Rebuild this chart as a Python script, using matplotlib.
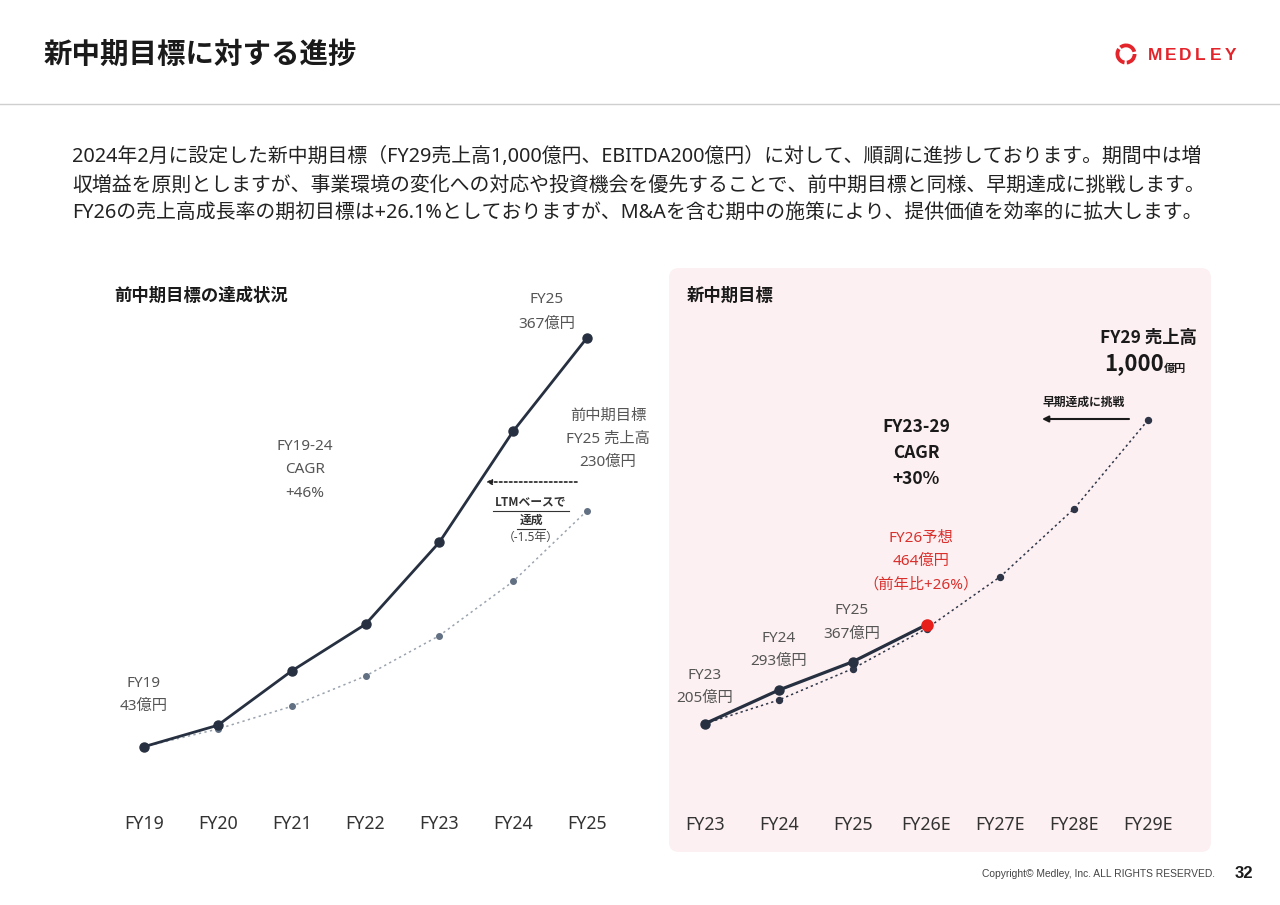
import matplotlib
matplotlib.use("Agg")
import matplotlib.pyplot as plt
from matplotlib.patches import FancyBboxPatch, Wedge
import numpy as np

plt.rcParams['font.family'] = ['Noto Sans', 'Noto Sans CJK JP', 'DejaVu Sans']
BF = ['Noto Sans CJK JP', 'DejaVu Sans']  # bold family

# ---------------- data ----------------
left_labels = ["FY19", "FY20", "FY21", "FY22", "FY23", "FY24", "FY25"]
left_actual = [43, 60, 103, 140, 205, 293, 367]
left_target = [43, 57, 75, 99, 131, 174, 230]

right_labels = ["FY23", "FY24", "FY25", "FY26E", "FY27E", "FY28E", "FY29E"]
right_actual = [205, 293, 367, 464]
right_target = [205, 267, 349, 454, 590, 768, 1000]

W, H = 1280, 905
fig = plt.figure(figsize=(W / 100, H / 100), dpi=100)
fig.patch.set_facecolor("white")

# background axes in pixel coordinates
bg = fig.add_axes([0, 0, 1, 1], zorder=0)
bg.set_xlim(0, W)
bg.set_ylim(H, 0)
bg.axis("off")

DARK = "#263040"
GRAY = "#555555"
RED = "#d9302c"

# title, divider
bg.text(44, 55, "新中期目標に対する進捗", fontsize=20.5, fontweight="bold",
        family=BF, color="#1a1a1a", va="center", ha="left")
bg.plot([0, W], [104, 104], color="#cfcfcf", lw=1)

# logo
cx, cy, r = 1126, 54, 10.5
for a1, a2 in [(100, 215), (230, 345), (360, 445)]:
    bg.add_patch(Wedge((cx, cy), r, a1, a2, width=3.8, color="#e3242b", lw=0))
for i, ch in enumerate("MEDLEY"):
    bg.text(1155 + 15.2 * i, 55, ch, fontsize=12.5, fontweight="bold",
            color="#e3242b", ha="center", va="center", family="Liberation Sans")

# body text
body = [
    "2024年2月に設定した新中期目標（FY29売上高1,000億円、EBITDA200億円）に対して、順調に進捗しております。期間中は増",
    "収増益を原則としますが、事業環境の変化への対応や投資機会を優先することで、前中期目標と同様、早期達成に挑戦します。",
    "FY26の売上高成長率の期初目標は+26.1%としておりますが、M&Aを含む期中の施策により、提供価値を効率的に拡大します。",
]
for i, line in enumerate(body):
    bg.text(72, 157 + 28.5 * i, line, fontsize=14.3, color="#222222",
            va="center", ha="left")

# pink panel
bg.add_patch(FancyBboxPatch((669, 268), 1211 - 669, 852 - 268,
                            boxstyle="round,pad=0,rounding_size=10",
                            fc="#fdf0f2", ec="none"))

# subtitles
bg.text(114, 296, "前中期目標の達成状況", fontsize=12.5, fontweight="bold",
        family=BF, color="#1a1a1a", va="center")
bg.text(687, 296, "新中期目標", fontsize=12.5, fontweight="bold",
        family=BF, color="#1a1a1a", va="center")

# footer
bg.text(1215, 874, "Copyright© Medley, Inc. ALL RIGHTS RESERVED.", fontsize=7.4,
        color="#444444", ha="right", va="center", family="Liberation Sans")
bg.text(1253, 873, "32", fontsize=12, fontweight="bold", color="#1a1a1a",
        ha="right", va="center", family="Liberation Sans")


def make_axes(x0, x1, ytop, ybot, ymax):
    ax = fig.add_axes([x0 / W, 1 - ybot / H, (x1 - x0) / W, (ybot - ytop) / H],
                      zorder=2)
    ax.set_xlim(-0.5, 6.5)
    ax.set_ylim(0, ymax)
    ax.patch.set_alpha(0)
    for s in ax.spines.values():
        s.set_visible(False)
    ax.set_yticks([])
    ax.tick_params(axis="x", length=0, pad=10, labelsize=12.8, labelcolor="#333333")
    return ax


# ---------------- left chart ----------------
axL = make_axes(107, 624, 300, 801, 501 / 1.2623)
xL = np.arange(len(left_labels))
axL.set_xticks(xL)
axL.set_xticklabels(left_labels)
axL.plot(xL, left_target, ls=(0, (1.5, 2.2)), color="#9aa3ae", lw=1.1,
         marker="o", ms=4, mfc="#627083", mec="#627083", clip_on=False, zorder=2)
axL.plot(xL, left_actual, color=DARK, lw=2, marker="o", ms=6.5,
         clip_on=False, zorder=3)

bg.text(144, 683, "FY19", fontsize=11, color=GRAY, ha="center", va="center")
bg.text(144, 706, "43億円", fontsize=11, color=GRAY, ha="center", va="center")
bg.text(547, 299, "FY25", fontsize=11, color=GRAY, ha="center", va="center")
bg.text(547, 324, "367億円", fontsize=11, color=GRAY, ha="center", va="center")
for i, t in enumerate(["FY19-24", "CAGR", "+46%"]):
    bg.text(305, 446 + 23.5 * i, t, fontsize=11, color=GRAY, ha="center", va="center")
for i, t in enumerate(["前中期目標", "FY25 売上高", "230億円"]):
    bg.text(608, 416 + 23 * i, t, fontsize=11, color=GRAY, ha="center", va="center")

bg.annotate("", xy=(486, 482), xytext=(577, 482),
            arrowprops=dict(arrowstyle="-|>", color="#222222", lw=1.2,
                            ls=(0, (1.5, 1.5)), mutation_scale=8,
                            shrinkA=0, shrinkB=0))
bg.text(531, 502, "LTMベースで", fontsize=8.5, fontweight="bold", family=BF,
        color="#333333", ha="center", va="center")
bg.plot([493, 569], [511, 511], color="#333333", lw=0.8)
bg.text(531, 520, "達成", fontsize=8.5, fontweight="bold", family=BF,
        color="#333333", ha="center", va="center")
bg.plot([517, 545], [529, 529], color="#333333", lw=0.8)
bg.text(531, 537, "（-1.5年）", fontsize=8.5, color="#444444",
        ha="center", va="center")

# ---------------- right chart ----------------
axR = make_axes(668, 1185, 300, 802, 502 / 0.382)
xR = np.arange(len(right_labels))
axR.set_xticks(xR)
axR.set_xticklabels(right_labels)
axR.plot(xR, right_target, ls=(0, (1.5, 2.0)), color="#2d3547", lw=1.1,
         marker="o", ms=4.3, mfc="#2d3547", mec="#2d3547", clip_on=False, zorder=2)
xa = xR[:len(right_actual)]
axR.plot(xa, right_actual, color=DARK, lw=2.3, marker="o", ms=6.5,
         clip_on=False, zorder=3)
axR.plot(xa[-1], right_actual[-1], marker="o", ms=8, color="#e8201c",
         clip_on=False, zorder=4, ls="none")

bg.text(705, 675, "FY23", fontsize=11, color=GRAY, ha="center", va="center")
bg.text(705, 698, "205億円", fontsize=11, color=GRAY, ha="center", va="center")
bg.text(779, 638, "FY24", fontsize=11, color=GRAY, ha="center", va="center")
bg.text(779, 661, "293億円", fontsize=11, color=GRAY, ha="center", va="center")
bg.text(852, 610, "FY25", fontsize=11, color=GRAY, ha="center", va="center")
bg.text(852, 634, "367億円", fontsize=11, color=GRAY, ha="center", va="center")
for i, t in enumerate(["FY26予想", "464億円", "（前年比+26%）"]):
    bg.text(921, 538 + 23.5 * i, t, fontsize=11, color=RED, ha="center", va="center")
for i, t in enumerate(["FY23-29", "CAGR", "+30%"]):
    bg.text(916, 427 + 26 * i, t, fontsize=12.5, fontweight="bold", family=BF,
            color="#1a1a1a", ha="center", va="center")

bg.text(1148, 338, "FY29 売上高", fontsize=12.5, fontweight="bold", family=BF,
        color="#1a1a1a", ha="center", va="center")
bg.text(1164, 364, "1,000", fontsize=16, fontweight="bold", family=BF,
        color="#1a1a1a", ha="right", va="center")
bg.text(1164, 368, "億円", fontsize=8, fontweight="bold", family=BF,
        color="#1a1a1a", ha="left", va="center")
bg.text(1084, 402, "早期達成に挑戦", fontsize=8.5, fontweight="bold", family=BF,
        color="#1a1a1a", ha="center", va="center")
bg.annotate("", xy=(1042, 419), xytext=(1129, 419),
            arrowprops=dict(arrowstyle="-|>", color="#1a1a1a", lw=1.5,
                            mutation_scale=9, shrinkA=0, shrinkB=0))

fig.savefig("out.png", dpi=100, facecolor="white")
